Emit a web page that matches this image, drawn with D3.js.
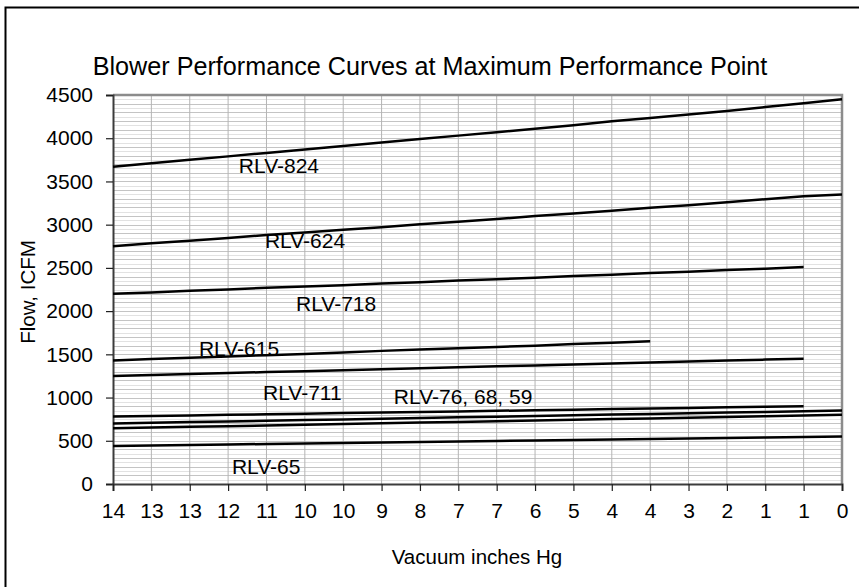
<!DOCTYPE html>
<html>
<head>
<meta charset="utf-8">
<script src="https://cdn.jsdelivr.net/npm/d3@7"></script>
<style>
    body { margin: 0; background: #fff; }
    svg { display: block; font-family: "Liberation Sans", Arial, sans-serif; }
</style>
</head>
<body>
<svg id="chart" width="859" height="587"></svg>
<script>
// Category labels along the (reversed) vacuum axis.
const vacuumLabels = ['14', '13', '13', '12', '11', '10', '10', '9', '8', '7', '7', '6', '5', '4', '4', '3', '2', '1', '1', '0'];
const flowTicks = [0, 500, 1000, 1500, 2000, 2500, 3000, 3500, 4000, 4500];

// Flow, ICFM per blower, one value per category (null = no point).
const rlv824 = [3670, 3710, 3750, 3790, 3830, 3870, 3910, 3950, 3990, 4030, 4070, 4110, 4150, 4195, 4235, 4275, 4315, 4360, 4405, 4450];
const rlv624 = [2750, 2785, 2815, 2845, 2880, 2910, 2940, 2970, 3005, 3035, 3065, 3100, 3130, 3160, 3195, 3225, 3260, 3295, 3330, 3350];
const rlv718 = [2200, 2215, 2235, 2250, 2270, 2285, 2300, 2320, 2335, 2355, 2370, 2385, 2405, 2420, 2440, 2455, 2475, 2490, 2510, null];
const rlv615 = [1430, 1445, 1460, 1475, 1490, 1505, 1520, 1540, 1555, 1570, 1585, 1600, 1620, 1635, 1650, null, null, null, null, null];
const rlv711 = [1250, 1260, 1272, 1283, 1295, 1305, 1316, 1328, 1339, 1350, 1361, 1372, 1383, 1395, 1406, 1417, 1428, 1439, 1450, null];
const rlv76 = [780, 787, 793, 800, 807, 813, 820, 827, 833, 840, 847, 853, 860, 867, 873, 880, 887, 893, 900, null];
const rlv68 = [700, 708, 716, 724, 732, 740, 747, 755, 763, 771, 779, 787, 795, 803, 811, 818, 826, 834, 842, 850];
const rlv59 = [645, 653, 661, 669, 677, 686, 694, 702, 710, 718, 726, 735, 743, 751, 759, 767, 775, 784, 792, 800];
const rlv65 = [440, 446, 452, 457, 463, 469, 475, 480, 486, 492, 498, 503, 509, 515, 521, 527, 532, 538, 544, 550];

const series = [rlv824, rlv624, rlv718, rlv615, rlv711, rlv76, rlv68, rlv59, rlv65];

// Text labels placed by hand in the original, anchored at a category and a flow value.
const curveLabels = [
    {text: 'RLV-824', at: 3.28, flow: 3600},
    {text: 'RLV-624', at: 3.96, flow: 2735},
    {text: 'RLV-718', at: 4.77, flow: 2005},
    {text: 'RLV-615', at: 2.24, flow: 1475},
    {text: 'RLV-711', at: 3.91, flow: 977},
    {text: 'RLV-76, 68, 59', at: 7.32, flow: 931},
    {text: 'RLV-65', at: 3.1, flow: 121}
];

const svg = d3.select('#chart');
const W = 859, H = 587;
const M = {left: 113, right: 842, top: 95, bottom: 484};
const FONT = 21;

// Outer chart frame (cut off at right and bottom in the original).
svg.append('rect')
    .attr('x', 5.5).attr('y', 7.5)
    .attr('width', W).attr('height', H)
    .attr('fill', 'none').attr('stroke', '#000').attr('stroke-width', 2);

const x = d3.scalePoint()
    .domain(d3.range(vacuumLabels.length))
    .range([M.left, M.right]);
const xc = d3.scaleLinear()
    .domain([0, vacuumLabels.length - 1])
    .range([M.left, M.right]);
const y = d3.scaleLinear()
    .domain([0, 4500])
    .range([M.bottom, M.top]);

// Gridlines.
const grid = svg.append('g').attr('class', 'grid');
grid.selectAll('line.h')
    .data(d3.range(50, 4500, 50))
    .join('line')
    .attr('class', 'h')
    .attr('x1', M.left).attr('x2', M.right)
    .attr('y1', d => Math.round(y(d)) + 0.5).attr('y2', d => Math.round(y(d)) + 0.5)
    .attr('stroke', d => d % 100 === 0 ? '#c4c4c4' : '#e2e2e2')
    .attr('stroke-width', 1);
grid.selectAll('line.v')
    .data(d3.range(1, vacuumLabels.length - 1))
    .join('line')
    .attr('class', 'v')
    .attr('x1', d => x(d)).attr('x2', d => x(d))
    .attr('y1', M.top).attr('y2', M.bottom)
    .attr('stroke', '#b4b4b4')
    .attr('stroke-width', 1);

// Plot frame top/right.
svg.append('path')
    .attr('d', `M${M.left},${M.top}H${M.right}V${M.bottom}`)
    .attr('fill', 'none').attr('stroke', '#8c8c8c').attr('stroke-width', 2.5);

// Axes.
const yAxis = svg.append('g')
    .attr('transform', `translate(${M.left},0)`)
    .call(d3.axisLeft(y).tickValues(flowTicks).tickFormat(d3.format('d')).tickSize(7).tickPadding(13));
const xAxis = svg.append('g')
    .attr('transform', `translate(0,${M.bottom})`)
    .call(d3.axisBottom(x).tickFormat(i => vacuumLabels[i]).tickSize(7).tickPadding(12));
[yAxis, xAxis].forEach(a => {
    a.select('.domain').attr('stroke', '#3c3c3c').attr('stroke-width', 2);
    a.selectAll('.tick line').attr('stroke', '#202020').attr('stroke-width', 1.2);
    a.selectAll('.tick text')
        .attr('fill', '#000')
        .attr('font-family', '"Liberation Sans", Arial, sans-serif')
        .attr('font-size', FONT);
});

// Curves.
const line = d3.line()
    .defined(d => d != null)
    .x((d, i) => x(i))
    .y(d => y(d));
svg.append('g').selectAll('path')
    .data(series)
    .join('path')
    .attr('d', line)
    .attr('fill', 'none')
    .attr('stroke', '#000')
    .attr('stroke-width', 2.5);

// Curve labels.
svg.append('g').selectAll('text')
    .data(curveLabels)
    .join('text')
    .attr('x', d => xc(d.at))
    .attr('y', d => y(d.flow))
    .attr('font-size', FONT)
    .attr('fill', '#000')
    .text(d => d.text);

// Titles.
svg.append('text')
    .attr('x', 430).attr('y', 75)
    .attr('text-anchor', 'middle')
    .attr('font-size', 25.2)
    .text('Blower Performance Curves at Maximum Performance Point');
svg.append('text')
    .attr('x', 477).attr('y', 564)
    .attr('text-anchor', 'middle')
    .attr('font-size', 20.5)
    .text('Vacuum inches Hg');
svg.append('text')
    .attr('transform', 'translate(35,292) rotate(-90)')
    .attr('text-anchor', 'middle')
    .attr('font-size', 20.5)
    .text('Flow, ICFM');
</script>
</body>
</html>
